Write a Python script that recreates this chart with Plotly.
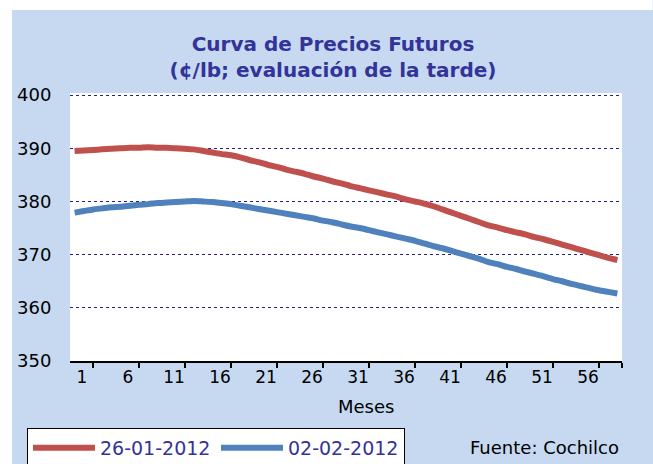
import plotly.graph_objects as go

# ---- data ----
months = list(range(1, 61))
serie_26_01 = [389.5, 389.6, 389.7, 389.8, 389.9, 390.0, 390.1, 390.1, 390.2, 390.1,
               390.1, 390.0, 389.9, 389.8, 389.5, 389.2, 388.9, 388.7, 388.3, 387.8,
               387.4, 386.9, 386.5, 386.0, 385.6, 385.2, 384.7, 384.3, 383.8, 383.4,
               382.9, 382.5, 382.1, 381.7, 381.3, 380.9, 380.4, 380.0, 379.6, 379.1,
               378.5, 377.9, 377.3, 376.7, 376.1, 375.5, 375.1, 374.6, 374.2, 373.8,
               373.3, 372.9, 372.4, 371.9, 371.4, 370.9, 370.4, 369.9, 369.4, 369.0]
serie_02_02 = [377.9, 378.2, 378.5, 378.7, 378.9, 379.0, 379.2, 379.4, 379.5, 379.7,
               379.8, 379.9, 380.0, 380.1, 380.0, 379.9, 379.7, 379.5, 379.2, 378.9,
               378.6, 378.3, 378.0, 377.7, 377.4, 377.1, 376.8, 376.4, 376.1, 375.7,
               375.3, 375.0, 374.6, 374.2, 373.8, 373.4, 373.0, 372.6, 372.1, 371.6,
               371.2, 370.7, 370.2, 369.7, 369.2, 368.6, 368.2, 367.7, 367.3, 366.8,
               366.4, 365.9, 365.4, 365.0, 364.5, 364.1, 363.7, 363.3, 363.0, 362.7]
series_names = ["26-01-2012", "02-02-2012"]
x_tick_labels = [1, 6, 11, 16, 21, 26, 31, 36, 41, 46, 51, 56]
y_ticks = [350, 360, 370, 380, 390, 400]

RED = "#C0504D"
BLUE = "#4F81BD"
NAVY = "#333399"
BG = "#C6D9F1"
FONT = "DejaVu Sans"

PLOT_TOP = 93
PLOT_BOTTOM = 361
PLOT_H = PLOT_BOTTOM - PLOT_TOP

fig = go.Figure()
fig.add_trace(go.Scatter(x=months, y=serie_26_01, mode="lines", name=series_names[0],
                         line=dict(color=RED, width=6, shape="spline", smoothing=0.6)))
fig.add_trace(go.Scatter(x=months, y=serie_02_02, mode="lines", name=series_names[1],
                         line=dict(color=BLUE, width=6, shape="spline", smoothing=0.6)))

label_pos = [v + 0.8 for v in x_tick_labels]
mark_pos = [v + 2 for v in x_tick_labels] + [60.5]

fig.update_layout(
    width=653, height=464,
    margin=dict(l=70, r=31, t=PLOT_TOP, b=464 - PLOT_BOTTOM),
    paper_bgcolor=BG, plot_bgcolor="white",
    font=dict(family=FONT, color="black"),
    showlegend=True,
    title=dict(text="<b>Curva de Precios Futuros<br>(¢/lb; evaluación de la tarde)</b>",
               font=dict(family=FONT, size=20, color=NAVY),
               x=333/653, xanchor="center", xref="container",
               y=1 - 51/464, yanchor="middle", yref="container"),
    xaxis=dict(range=[0.5, 60.5], tickvals=label_pos, ticktext=[str(v) for v in x_tick_labels],
               ticks="", showgrid=False, zeroline=False,
               showline=True, linecolor="black", linewidth=2,
               tickfont=dict(size=17, color="black"),
               minor=dict(tickvals=mark_pos, ticks="outside", ticklen=5, tickwidth=2,
                          tickcolor="black", showgrid=False)),
    yaxis=dict(range=[350, 400.4], tickvals=y_ticks, ticks="outside", ticklen=14,
               tickcolor="rgba(0,0,0,0)", showgrid=True, gridcolor="#1F1F99",
               griddash="dot", gridwidth=1, zeroline=False, showline=False,
               tickfont=dict(size=18, color="black")),
    legend=dict(orientation="h", xref="container", yref="container",
                x=27/653, xanchor="left", y=1 - 428/464, yanchor="top",
                bgcolor="white", bordercolor="black", borderwidth=1,
                itemwidth=62, entrywidth=111, entrywidthmode="pixels",
                font=dict(family=FONT, size=19, color=NAVY)),
    annotations=[
        dict(text="Meses", xref="paper", yref="paper", x=(366 - 70)/552.3,
             y=(PLOT_BOTTOM - 406)/PLOT_H,
             showarrow=False, xanchor="center", yanchor="middle",
             font=dict(family=FONT, size=18, color="black")),
        dict(text="Fuente: Cochilco", xref="paper", yref="paper", x=(545 - 70)/552.3,
             y=(PLOT_BOTTOM - 447)/PLOT_H, showarrow=False, xanchor="center", yanchor="middle",
             font=dict(family=FONT, size=18, color="black")),
    ],
)

# white border strips (top and left) of the original page
fig.add_shape(type="rect", xref="paper", yref="paper",
              x0=-70/552.3, x1=(653 - 70)/552.3,
              y0=1 + (PLOT_TOP - 10)/PLOT_H, y1=1 + PLOT_TOP/PLOT_H,
              fillcolor="white", line_width=0, layer="below")
fig.add_shape(type="rect", xref="paper", yref="paper",
              x0=-70/552.3, x1=(12 - 70)/552.3,
              y0=(PLOT_BOTTOM - 464)/PLOT_H, y1=1 + PLOT_TOP/PLOT_H,
              fillcolor="white", line_width=0, layer="below")

fig.write_html("out.html", config={"displayModeBar": False},
               post_script="document.body.style.margin='0';document.body.style.overflow='hidden';")
